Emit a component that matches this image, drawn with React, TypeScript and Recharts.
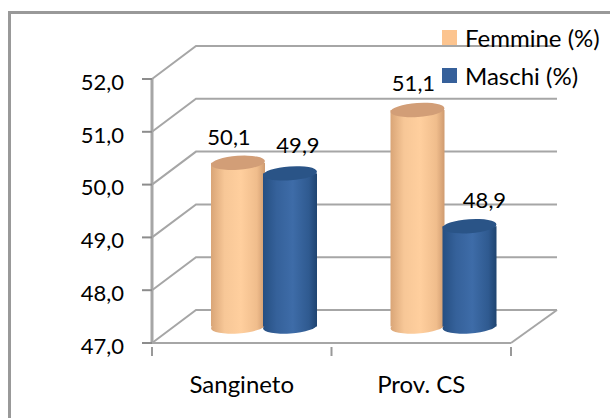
import { BarChart, Bar, XAxis, YAxis, CartesianGrid, Legend, LabelList } from 'recharts';

const categories = ['Sangineto', 'Prov. CS'];
const femmine = [50.1, 51.1];
const maschi = [49.9, 48.9];
const yTicks = [47, 48, 49, 50, 51, 52];

const data = categories.map((name, i) => ({ name, femmine: femmine[i], maschi: maschi[i] }));

// fake 3D: how far the back wall sits from the front plane
const DEPTH_X = 44;
const DEPTH_Y = 33;
const GRID = '#a6a6a6';
const FONT = 'Lato, "Open Sans", sans-serif';
const fmt = (v: number) => v.toFixed(1).replace('.', ',');

// hand placed labels in the original, relative to the top of each cylinder
const femmineNudge = [[-9, -25], [-4, -26]];
const maschiNudge = [[8, -27], [15, -25]];

function Cylinder({ x, y, width, height, side, top }: any) {
  const cx = x + width / 2 + DEPTH_X / 2;
  const left = x + DEPTH_X / 2;
  const topY = y - DEPTH_Y / 2;
  const botY = topY + height;
  const ry = 7;
  return (
    <g>
      <ellipse cx={cx} cy={botY} rx={width / 2} ry={ry} fill={`url(#${side})`} transform={`rotate(-4 ${cx} ${botY})`} />
      <rect x={left} y={topY} width={width} height={height} fill={`url(#${side})`} />
      <ellipse cx={cx} cy={topY} rx={width / 2} ry={ry} fill={top} transform={`rotate(-4 ${cx} ${topY})`} />
    </g>
  );
}

// grid line runs back along the side wall, then across the back wall
// the bottom one also closes the floor on the right
function GridLine({ x1, y1, x2, index }: any) {
  return (
    <g>
      <polyline
        points={`${x1},${y1} ${x1 + DEPTH_X},${y1 - DEPTH_Y} ${x2 + DEPTH_X + 2},${y1 - DEPTH_Y}`}
        fill="none"
        stroke={GRID}
        strokeWidth={2}
      />
      {index === 0 && (
        <line x1={x2} y1={y1} x2={x2 + DEPTH_X + 2} y2={y1 - DEPTH_Y} stroke={GRID} strokeWidth={2} />
      )}
    </g>
  );
}

// ticks sit between the categories, not under them
function CategoryTick({ x, y, width, payload, index }: any) {
  const band = width / categories.length;
  const left = x - band / 2;
  const right = x + band / 2;
  return (
    <g>
      <line x1={left} y1={y - 2} x2={left} y2={y + 7} stroke="#999" strokeWidth={2} />
      {index === categories.length - 1 && (
        <line x1={right} y1={y - 2} x2={right} y2={y + 7} stroke="#999" strokeWidth={2} />
      )}
      <text x={x} y={y + 44} textAnchor="middle" fontSize={24} fontFamily={FONT} fill="#000">
        {payload.value}
      </text>
    </g>
  );
}

function BarLabel({ x, y, width, value, index, nudge }: any) {
  const [dx, dy] = nudge[index];
  return (
    <text
      x={x + width / 2 + DEPTH_X / 2 + dx}
      y={y - DEPTH_Y / 2 + dy + 7}
      textAnchor="middle"
      fontSize={22}
      fontFamily={FONT}
      fill="#000"
    >
      {fmt(value)}
    </text>
  );
}

function LegendBox({ payload }: any) {
  return (
    <div style={{ fontFamily: FONT, fontSize: 24, color: '#000', whiteSpace: 'nowrap' }}>
      {(payload ?? []).map((p: any) => (
        <div key={p.value} style={{ display: 'flex', alignItems: 'center', height: 38 }}>
          <span style={{ width: 15, height: 15, background: p.color, marginRight: 8 }} />
          <span>{p.value}</span>
        </div>
      ))}
    </div>
  );
}

export default function App() {
  return (
    <div style={{ position: 'absolute', left: 0, top: 0, width: 610, height: 418, background: '#fff', overflow: 'hidden' }}>
      <div style={{ position: 'absolute', left: 8, top: 11, width: 610, height: 420, borderLeft: '3px solid #999', borderTop: '3px solid #999' }} />
      <BarChart
        width={610}
        height={418}
        data={data}
        barSize={54}
        barGap={-2}
        barCategoryGap={0}
        margin={{ top: 79, right: 99, left: 0, bottom: 0 }}
        style={{ position: 'absolute', left: 0, top: 0 }}
      >
        <CartesianGrid
          vertical={false}
          horizontal={(p: any) => <GridLine key={p.key} {...p} />}
        />
        <XAxis
          dataKey="name"
          interval={0}
          height={75}
          axisLine={{ stroke: GRID, strokeWidth: 2 }}
          tickLine={false}
          tickMargin={0}
          tick={<CategoryTick />}
        />
        <YAxis
          domain={[47, 52]}
          ticks={yTicks}
          interval={0}
          width={152}
          tickFormatter={fmt}
          axisLine={{ stroke: GRID, strokeWidth: 3 }}
          tickLine={{ stroke: '#8c8c8c', strokeWidth: 2 }}
          tickSize={10}
          tick={{ fill: '#000', fontSize: 22, fontFamily: FONT, dx: -16, dy: 3 }}
        />
        <defs>
          <linearGradient id="cylF" x1="0" y1="0" x2="1" y2="0">
            <stop offset="0" stopColor="#d9a577" />
            <stop offset="0.25" stopColor="#f7c797" />
            <stop offset="0.55" stopColor="#ffcf9e" />
            <stop offset="0.85" stopColor="#f0bd8c" />
            <stop offset="1" stopColor="#cf9b70" />
          </linearGradient>
          <linearGradient id="cylM" x1="0" y1="0" x2="1" y2="0">
            <stop offset="0" stopColor="#264f82" />
            <stop offset="0.25" stopColor="#35619a" />
            <stop offset="0.55" stopColor="#3e6ca8" />
            <stop offset="0.85" stopColor="#2f5a90" />
            <stop offset="1" stopColor="#1f4470" />
          </linearGradient>
        </defs>
        <Legend
          layout="vertical"
          verticalAlign="middle"
          align="center"
          wrapperStyle={{ left: 442, top: 18, width: 168 }}
          content={<LegendBox />}
        />
        <Bar
          dataKey="femmine"
          name="Femmine (%)"
          fill="#fcc48f"
          isAnimationActive={false}
          shape={(p: any) => <Cylinder {...p} side="cylF" top="#d29e77" />}
        >
          <LabelList dataKey="femmine" content={(p: any) => <BarLabel {...p} nudge={femmineNudge} />} />
        </Bar>
        <Bar
          dataKey="maschi"
          name="Maschi (%)"
          fill="#36609a"
          isAnimationActive={false}
          shape={(p: any) => <Cylinder {...p} side="cylM" top="#2a5487" />}
        >
          <LabelList dataKey="maschi" content={(p: any) => <BarLabel {...p} nudge={maschiNudge} />} />
        </Bar>
      </BarChart>
    </div>
  );
}
